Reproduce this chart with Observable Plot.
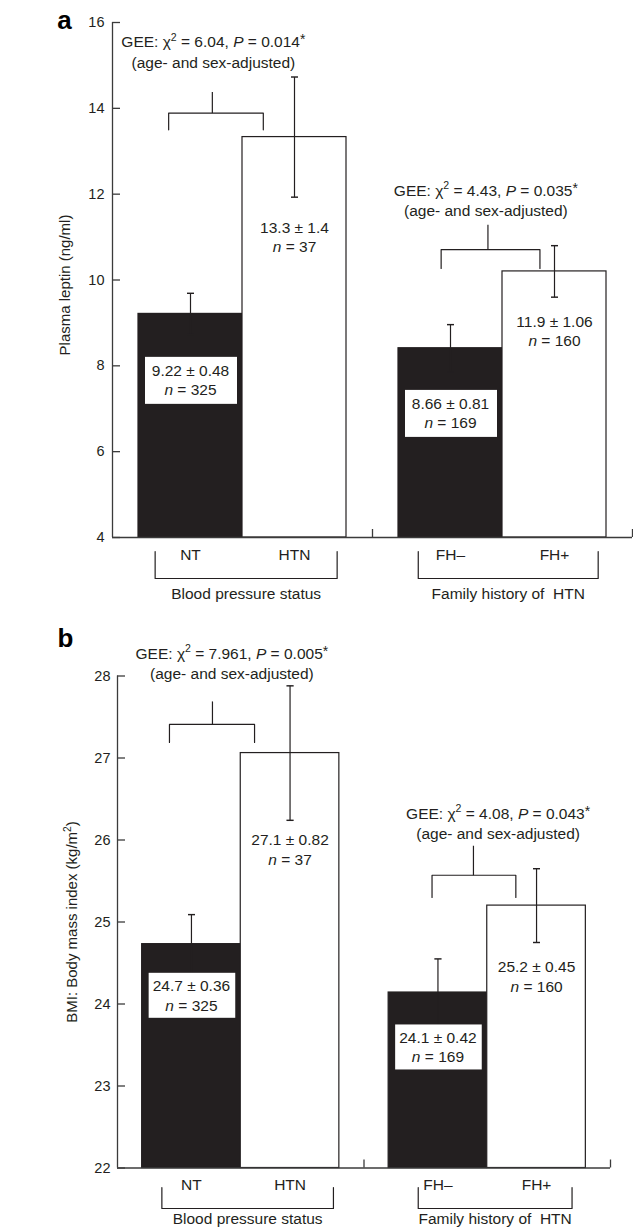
<!DOCTYPE html>
<html>
<head>
<meta charset="utf-8">
<script src="https://cdn.jsdelivr.net/npm/d3@7"></script>
<script src="https://cdn.jsdelivr.net/npm/@observablehq/plot@0.6"></script>
<style>
  body { margin: 0; background: #fff; }
  #chart { width: 633px; }
  #chart svg { display: block; }
</style>
</head>
<body>
<div id="chart"></div>
<script>
// ---------- shared categories ----------
const categories = ["NT", "HTN", "FH–", "FH+"];
const groupOf = [0, 0, 1, 1];
const slotOf = [0, 1, 0, 1];
const isDark = [true, false, true, false];
const groupLabels = ["Blood pressure status", "Family history of  HTN"];
const adjustedLine = "(age- and sex-adjusted)";

// ---------- panel a: plasma leptin ----------
const leptinMean = [9.21, 13.33, 8.41, 10.2];
const leptinErr = [0.48, 1.4, 0.55, 0.6];
const leptinValText = ["9.22 ± 0.48", "13.3 ± 1.4", "8.66 ± 0.81", "11.9 ± 1.06"];
const leptinNText = ["{n} = 325", "{n} = 37", "{n} = 169", "{n} = 160"];
const leptinTicks = [4, 6, 8, 10, 12, 14, 16];
const leptinTests = ["GEE: χ^2 = 6.04, {P} = 0.014^*", "GEE: χ^2 = 4.43, {P} = 0.035^*"];
// annotation placement (data units)
const leptinLabelY = [7.65, 10.98, 6.88, 8.81];
const leptinTestX = [0.97, 3.59];
const leptinTestY = [15.54, 12.08];
const leptinSigX1 = [0.54, 3.16], leptinSigX2 = [1.45, 4.11], leptinSigXm = [0.96, 3.61];
const leptinSigYH = [13.89, 10.71], leptinSigYDrop = [13.50, 10.27], leptinSigYTop = [14.38, 11.29];
const leptinGroupBr = [[0.41, 2.16], [2.94, 4.67]];

// ---------- panel b: BMI ----------
const bmiMean = [24.73, 27.06, 24.14, 25.2];
const bmiErr = [0.36, 0.82, 0.41, 0.45];
const bmiValText = ["24.7 ± 0.36", "27.1 ± 0.82", "24.1 ± 0.42", "25.2 ± 0.45"];
const bmiNText = ["{n} = 325", "{n} = 37", "{n} = 169", "{n} = 160"];
const bmiTicks = [22, 23, 24, 25, 26, 27, 28];
const bmiTests = ["GEE: χ^2 = 7.961, {P} = 0.005^*", "GEE: χ^2 = 4.08, {P} = 0.043^*"];
const bmiLabelY = [24.1, 25.88, 23.47, 24.33];
const bmiTestX = [1.16, 3.86];
const bmiTestY = [28.27, 26.32];
const bmiSigX1 = [0.527, 3.19], bmiSigX2 = [1.39, 4.04], bmiSigXm = [0.963, 3.61];
const bmiSigYH = [27.41, 25.57], bmiSigYDrop = [27.19, 25.30], bmiSigYTop = [27.69, 25.93];
const bmiGroupBr = [[0.45, 2.19], [3.05, 4.61]];

// ---------- layout / style ----------
const W = 633;
const GROUP_SPAN = 2.5, PAD = 0.25;
const ink = "#231f20";
const axisInk = "#3b3b3b";
const FONT = "'Liberation Sans', Arial, Helvetica, sans-serif";
const FS = 15.5;

function panel(cfg) {
  const [mT, mR, mB, mL] = cfg.margins;
  const plotW = W - mL - mR, plotH = cfg.height - mT - mB;
  const [y0, yTopDom] = cfg.yDomain;
  const k = (yTopDom - y0) / plotH; // data units per pixel

  const rows = categories.map((c, i) => {
    const x1 = groupOf[i] * GROUP_SPAN + PAD + slotOf[i];
    return {
      c, x1, x2: x1 + 1, xc: x1 + 0.5,
      mean: cfg.mean[i], lo: cfg.mean[i] - cfg.err[i], hi: cfg.mean[i] + cfg.err[i],
      dark: isDark[i], val: cfg.valText[i], n: cfg.nText[i], ly: cfg.labelY[i]
    };
  });
  const groups = groupLabels.map((label, g) => ({label, gx1: cfg.groupBr[g][0], gx2: cfg.groupBr[g][1]}));
  const groupPts = groups.flatMap((d, g) =>
    [[d.gx1, cfg.brTop], [d.gx1, cfg.brBot], [d.gx2, cfg.brBot], [d.gx2, cfg.brTop]]
      .map(([x, px]) => ({g, x, y: y0 - px * k})));
  const sig = cfg.tests.map((t, j) => ({
    t, x: cfg.testX[j], y: cfg.testY[j],
    x1: cfg.sigX1[j], x2: cfg.sigX2[j], xm: cfg.sigXm[j],
    yH: cfg.sigYH[j], yDrop: cfg.sigYDrop[j], yTop: cfg.sigYTop[j]
  }));
  const sigPts = sig.flatMap((s, j) =>
    [[s.x1, s.yDrop], [s.x1, s.yH], [s.x2, s.yH], [s.x2, s.yDrop]].map(([x, y]) => ({j, x, y})));

  const txt = {fill: ink, fontSize: FS, fontFamily: FONT};

  return Plot.plot({
    width: W, height: cfg.height,
    marginTop: mT, marginRight: mR, marginBottom: mB, marginLeft: mL,
    x: {domain: [0, GROUP_SPAN * 2], axis: null},
    y: {domain: cfg.yDomain},
    style: {fontFamily: FONT, background: "white", color: ink, overflow: "visible"},
    marks: [
      // bars
      Plot.rect(rows.filter(d => d.dark), {x1: "x1", x2: "x2", y1: () => y0, y2: "mean", fill: ink, stroke: ink, strokeWidth: 1.2}),
      Plot.rect(rows.filter(d => !d.dark), {x1: "x1", x2: "x2", y1: () => y0, y2: "mean", fill: "white", stroke: ink, strokeWidth: 1.2}),
      // error bars
      Plot.link(rows, {x1: "xc", x2: "xc", y1: "lo", y2: "hi", stroke: ink, strokeWidth: 1.2, marker: "tick-x"}),
      // white label boxes inside dark bars
      Plot.rect(rows.filter(d => d.dark), {
        x1: "x1", x2: "x2",
        y1: d => d.ly - cfg.boxH / 2 * k, y2: d => d.ly + cfg.boxH / 2 * k,
        insetLeft: 7, insetRight: 5, fill: "white"
      }),
      Plot.text(rows, {x: "xc", y: "ly", text: "val", dy: -cfg.lineGap / 2, ...txt}),
      Plot.text(rows, {x: "xc", y: "ly", text: "n", dy: cfg.lineGap / 2, ...txt}),
      // y axis
      Plot.ruleX([0], {stroke: axisInk, strokeWidth: 1.3}),
      Plot.tickY(cfg.ticks, {y: d => d, insetRight: plotW - 8, stroke: axisInk, strokeWidth: 1.3}),
      Plot.axisY(cfg.ticks, {tickSize: 0, tickPadding: cfg.tickPad, tickFormat: d => String(d), label: null, fontSize: 14.5, fill: ink, fontFamily: FONT}),
      // x axis
      Plot.ruleY([y0], {stroke: axisInk, strokeWidth: 1.3}),
      Plot.tickX([GROUP_SPAN, GROUP_SPAN * 2], {x: d => d, insetTop: plotH - 8, stroke: axisInk, strokeWidth: 1.3}),
      Plot.text(rows, {x: "xc", y: () => y0, text: "c", dy: cfg.catDy, ...txt}),
      Plot.line(groupPts, {x: "x", y: "y", z: "g", stroke: ink, strokeWidth: 1.2}),
      Plot.text(groups, {x: d => (d.gx1 + d.gx2) / 2, y: () => y0, text: "label", dy: cfg.grpDy, ...txt}),
      // significance brackets and tests
      Plot.line(sigPts, {x: "x", y: "y", z: "j", stroke: ink, strokeWidth: 1.2}),
      Plot.link(sig, {x1: "xm", x2: "xm", y1: "yH", y2: "yTop", stroke: ink, strokeWidth: 1.2}),
      Plot.text(sig, {x: "x", y: "y", text: "t", ...txt}),
      Plot.text(sig, {x: "x", y: "y", text: () => adjustedLine, dy: cfg.testGap, ...txt}),
      // axis title and panel letter
      Plot.text([cfg.yTitle], {frameAnchor: "left", text: d => d, rotate: -90, textAnchor: "middle", lineAnchor: "middle",
        dx: cfg.titleDx, dy: cfg.titleDy, fill: ink, fontSize: 15, fontFamily: FONT}),
      Plot.text([cfg.letter], {frameAnchor: "top-left", text: d => d, textAnchor: "middle", lineAnchor: "middle",
        dx: cfg.letterDx, dy: cfg.letterDy, fill: "#000", fontSize: 26, fontWeight: "bold", fontFamily: FONT})
    ]
  });
}

function richify(svg) {
  const NS = "http://www.w3.org/2000/svg";
  for (const t of svg.querySelectorAll("text")) {
    if (t.querySelector("tspan")) continue;
    const s = t.textContent;
    if (!/[{^]/.test(s)) continue;
    const fs = parseFloat(getComputedStyle(t).fontSize) || FS;
    t.textContent = "";
    const re = /\{([^}]*)\}|\^(.)/g;
    let last = 0, m, pending = 0;
    const add = (str, attrs = {}, dyShift = 0) => {
      if (!str) return;
      const sp = document.createElementNS(NS, "tspan");
      sp.textContent = str;
      for (const [a, v] of Object.entries(attrs)) sp.setAttribute(a, v);
      const dy = pending + dyShift;
      if (dy) sp.setAttribute("dy", dy);
      pending = 0;
      t.appendChild(sp);
    };
    while ((m = re.exec(s))) {
      add(s.slice(last, m.index));
      if (m[1] !== undefined) {
        add(m[1], {"font-style": "italic"});
      } else {
        const star = m[2] === "*";
        const up = star ? 0.2 * fs : 0.42 * fs;
        add(m[2], {"font-size": ((star ? 0.9 : 0.68) * fs).toFixed(2)}, -up);
        pending = up;
      }
      last = re.lastIndex;
    }
    add(s.slice(last));
  }
}

const chart = document.getElementById("chart");

const a = panel({
  height: 610, margins: [22, 1, 73, 112], yDomain: [4, 16], ticks: leptinTicks,
  mean: leptinMean, err: leptinErr, valText: leptinValText, nText: leptinNText, labelY: leptinLabelY,
  lineGap: 19, boxH: 47,
  tests: leptinTests, testX: leptinTestX, testY: leptinTestY, testGap: 20.5,
  sigX1: leptinSigX1, sigX2: leptinSigX2, sigXm: leptinSigXm,
  sigYH: leptinSigYH, sigYDrop: leptinSigYDrop, sigYTop: leptinSigYTop,
  groupBr: leptinGroupBr, brTop: 14, brBot: 41, grpDy: 57, catDy: 18, tickPad: 8,
  yTitle: "Plasma leptin (ng/ml)", titleDx: -47, titleDy: 5,
  letter: "a", letterDx: -48, letterDy: -2
});
chart.appendChild(a);
richify(a);

const b = panel({
  height: 619, margins: [65.5, 23, 61.5, 117], yDomain: [22, 28], ticks: bmiTicks,
  mean: bmiMean, err: bmiErr, valText: bmiValText, nText: bmiNText, labelY: bmiLabelY,
  lineGap: 19.5, boxH: 45,
  tests: bmiTests, testX: bmiTestX, testY: bmiTestY, testGap: 20,
  sigX1: bmiSigX1, sigX2: bmiSigX2, sigXm: bmiSigXm,
  sigYH: bmiSigYH, sigYDrop: bmiSigYDrop, sigYTop: bmiSigYTop,
  groupBr: bmiGroupBr, brTop: 19.5, brBot: 40.5, grpDy: 51.5, catDy: 17, tickPad: 7,
  yTitle: "BMI: Body mass index (kg/m^2)", titleDx: -45, titleDy: 0,
  letter: "b", letterDx: -52, letterDy: -37
});
chart.appendChild(b);
richify(b);
</script>
</body>
</html>
